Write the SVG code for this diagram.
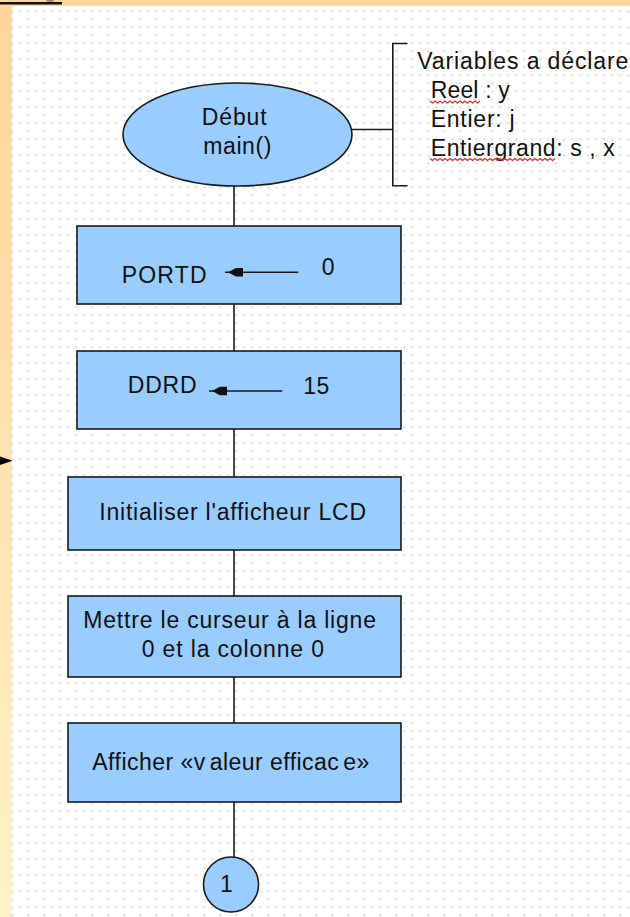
<svg xmlns="http://www.w3.org/2000/svg" width="630" height="917" viewBox="0 0 630 917">
  <defs>
    <linearGradient id="frameGrad" x1="0" y1="0" x2="0" y2="1">
      <stop offset="0" stop-color="#FFD59A"/>
      <stop offset="0.5" stop-color="#FFE2AE"/>
      <stop offset="1" stop-color="#FFF2C8"/>
    </linearGradient>
    <pattern id="dotGrid" patternUnits="userSpaceOnUse" x="11.5" y="10.5" width="16" height="16">
      <rect x="0" y="0" width="1.6" height="1.6" fill="#c4c4c4"/>
      <rect x="8" y="0" width="1.6" height="1.6" fill="#c4c4c4"/>
      <rect x="0" y="8" width="1.6" height="1.6" fill="#c4c4c4"/>
    </pattern>
  </defs>
  <style>
    .node { fill: #99CCFF; stroke: #1a1a1a; stroke-width: 1.6; }
    .wire { stroke: #1a1a1a; stroke-width: 1.6; fill: none; }
    .lbl { font-family: "Liberation Sans", Arial, sans-serif; font-size: 23px; fill: #111; }
    .head { fill: #111; }
    .squiggle { stroke: #e32626; stroke-width: 1.1; fill: none; }
  </style>

  <!-- slide frame and dotted drawing sheet -->
  <rect x="0" y="0" width="630" height="917" fill="url(#frameGrad)"/>
  <rect x="12" y="6" width="618" height="911" fill="#ffffff"/>
  <rect x="12" y="6" width="618" height="911" fill="url(#dotGrid)"/>
  <line x1="0" y1="3.3" x2="62" y2="3.3" stroke="#111" stroke-width="2.4"/>
  <ellipse cx="50" cy="0.6" rx="4" ry="1.4" fill="#555" opacity="0.6"/>
  <polygon points="0,456.5 12.5,460.7 0,465" fill="#000"/>

  <!-- connectors -->
  <g id="connectors">
    <line class="wire" x1="234" y1="186" x2="234" y2="226"/>
    <line class="wire" x1="234" y1="304" x2="234" y2="351"/>
    <line class="wire" x1="234" y1="429" x2="234" y2="477"/>
    <line class="wire" x1="234" y1="550" x2="234" y2="596"/>
    <line class="wire" x1="234" y1="677" x2="234" y2="723"/>
    <line class="wire" x1="234" y1="802" x2="234" y2="857.5"/>
    <line class="wire" x1="352" y1="129.5" x2="392.8" y2="129.5"/>
  </g>

  <!-- start terminal -->
  <g id="start">
    <ellipse class="node" cx="237.5" cy="134.5" rx="114.5" ry="51.5"/>
    <text class="lbl" x="201.7" y="125" textLength="65">Début</text>
    <text class="lbl" x="203.3" y="154" textLength="68">main()</text>
  </g>

  <!-- variable declarations annotation -->
  <g id="declarations">
    <path class="wire" d="M407.5,43.5 H392.8 V185.8 H407.5"/>
    <text class="lbl" x="417.3" y="69.3" textLength="211">Variables a déclare</text>
    <text class="lbl" x="430.7" y="98.3" textLength="79">Reel : y</text>
    <text class="lbl" x="430.7" y="127.3" textLength="84">Entier: j</text>
    <text class="lbl" x="430.7" y="156" textLength="184">Entiergrand: s , x</text>
    <path class="squiggle" d="M430,101 l2.5,2 l2.5,-2 l2.5,2 l2.5,-2 l2.5,2 l2.5,-2 l2.5,2 l2.5,-2 l2.5,2 l2.5,-2 l2.5,2 l2.5,-2 l2.5,2 l2.5,-2 l2.5,2 l2.5,-2 l2.5,2 l2.5,-2 l2.5,2 l2.5,-2"/>
    <path class="squiggle" d="M430,158.5 l2.5,2 l2.5,-2 l2.5,2 l2.5,-2 l2.5,2 l2.5,-2 l2.5,2 l2.5,-2 l2.5,2 l2.5,-2 l2.5,2 l2.5,-2 l2.5,2 l2.5,-2 l2.5,2 l2.5,-2 l2.5,2 l2.5,-2 l2.5,2 l2.5,-2 l2.5,2 l2.5,-2 l2.5,2 l2.5,-2 l2.5,2 l2.5,-2 l2.5,2 l2.5,-2 l2.5,2 l2.5,-2 l2.5,2 l2.5,-2 l2.5,2 l2.5,-2 l2.5,2 l2.5,-2 l2.5,2 l2.5,-2 l2.5,2 l2.5,-2 l2.5,2 l2.5,-2 l2.5,2 l2.5,-2 l2.5,2 l2.5,-2 l2.5,2 l2.5,-2 l2.5,2 l2.5,-2"/>
  </g>

  <!-- PORTD <- 0 -->
  <g id="portd">
    <rect class="node" x="77" y="226" width="324" height="78"/>
    <text class="lbl" x="121.7" y="283.3" textLength="85">PORTD</text>
    <line class="wire" x1="225" y1="272.3" x2="298.3" y2="272.3"/>
    <polygon class="head" points="228,272.3 236,268 243,268 243,276.6 236,276.6"/>
    <text class="lbl" x="321.7" y="275">0</text>
  </g>

  <!-- DDRD <- 15 -->
  <g id="ddrd">
    <rect class="node" x="77" y="351" width="324" height="78"/>
    <text class="lbl" x="127.7" y="393.3" textLength="69">DDRD</text>
    <line class="wire" x1="209" y1="391" x2="282.3" y2="391"/>
    <polygon class="head" points="212,391 220,386.7 227,386.7 227,395.3 220,395.3"/>
    <text class="lbl" x="303.3" y="394" textLength="26">15</text>
  </g>

  <!-- LCD init -->
  <g id="lcd-init">
    <rect class="node" x="68" y="477" width="333" height="73"/>
    <text class="lbl" x="99.3" y="520" textLength="266.7">Initialiser l'afficheur LCD</text>
  </g>

  <!-- cursor position -->
  <g id="cursor">
    <rect class="node" x="68" y="596" width="333" height="81"/>
    <text class="lbl" x="83.3" y="627.7" textLength="292.7">Mettre le curseur à la ligne</text>
    <text class="lbl" x="141.7" y="656.7" textLength="182.3">0 et la colonne 0</text>
  </g>

  <!-- display message -->
  <g id="display">
    <rect class="node" x="68" y="723" width="333" height="79"/>
    <text class="lbl" x="92.3" y="770" textLength="277">Afficher «v<tspan dx="4">aleur efficac</tspan><tspan dx="4">e»</tspan></text>
  </g>

  <!-- page connector -->
  <g id="connector-1">
    <circle class="node" cx="231" cy="884.5" r="27.5"/>
    <text class="lbl" x="226.5" y="891.7" text-anchor="middle">1</text>
  </g>
</svg>
